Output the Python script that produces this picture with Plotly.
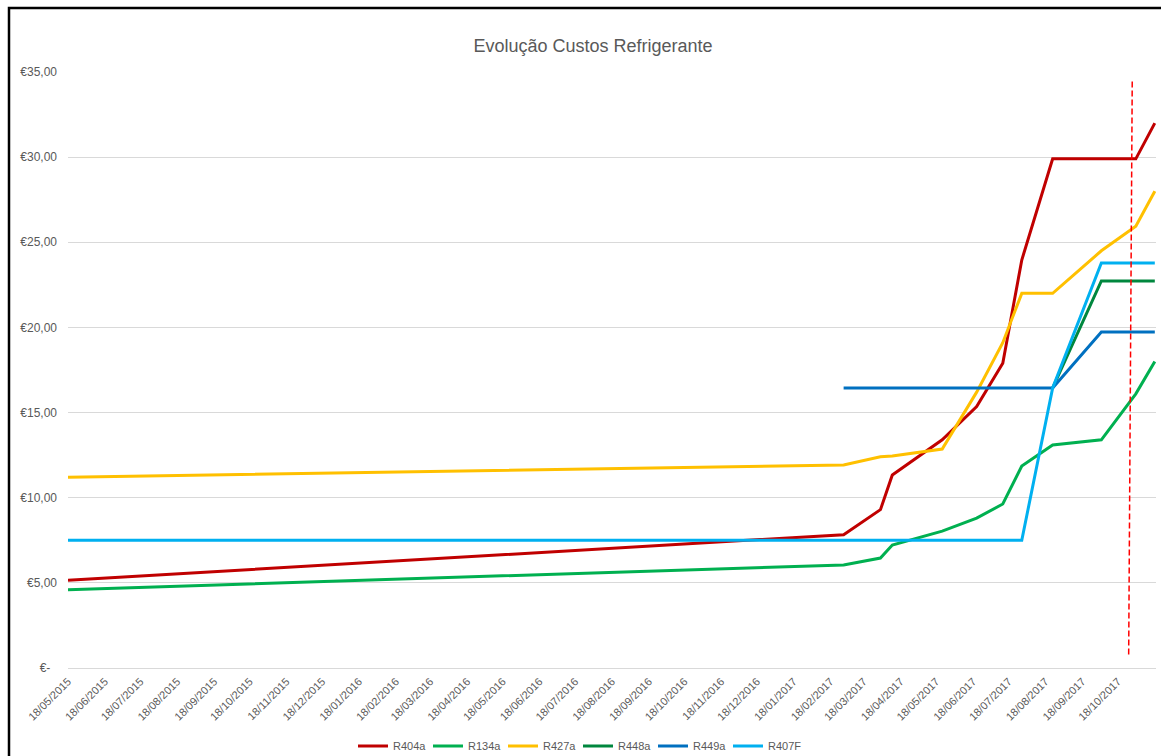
import plotly.graph_objects as go

# ---------------- data ----------------
dates = ["2015-05-18", "2017-03-01", "2017-04-01", "2017-04-11", "2017-05-23",
         "2017-06-21", "2017-07-13", "2017-07-29", "2017-08-24", "2017-10-04",
         "2017-11-02", "2017-11-18"]

r404a = [5.15, 7.83, 9.30, 11.33, 13.40, 15.35, 17.90, 23.96, 29.90, 29.90, 29.90, 32.00]
r134a = [4.60, 6.05, 6.46, 7.22, 8.04, 8.80, 9.63, 11.86, 13.10, 13.40, 16.10, 18.00]
r427a = [11.20, 11.92, 12.40, 12.45, 12.86, 16.20, 19.10, 22.00, 22.00, 24.50, 25.95, 28.00]
r448a = [None, None, None, None, None, None, None, None, 16.45, 22.73, 22.73, 22.73]
r449a = [None, 16.45, 16.45, 16.45, 16.45, 16.45, 16.45, 16.45, 16.45, 19.73, 19.73, 19.73]
r407f = [7.50, 7.50, 7.50, 7.50, 7.50, 7.50, 7.50, 7.50, 16.45, 23.78, 23.78, 23.78]

series_names = ["R404a", "R134a", "R427a", "R448a", "R449a", "R407F"]
series_values = [r404a, r134a, r427a, r448a, r449a, r407f]
series_colors = ["#C00000", "#00B050", "#FFC000", "#00873E", "#0070C0", "#00B0F0"]

# reference (today) marker line
marker_dates = ["2017-10-27", "2017-10-30"]
marker_levels = [0.8, 34.5]

tick_dates = ["2015-05-18", "2015-06-18", "2015-07-18", "2015-08-18", "2015-09-18",
              "2015-10-18", "2015-11-18", "2015-12-18", "2016-01-18", "2016-02-18",
              "2016-03-18", "2016-04-18", "2016-05-18", "2016-06-18", "2016-07-18",
              "2016-08-18", "2016-09-18", "2016-10-18", "2016-11-18", "2016-12-18",
              "2017-01-18", "2017-02-18", "2017-03-18", "2017-04-18", "2017-05-18",
              "2017-06-18", "2017-07-18", "2017-08-18", "2017-09-18", "2017-10-18"]
tick_labels = ["18/05/2015", "18/06/2015", "18/07/2015", "18/08/2015", "18/09/2015",
               "18/10/2015", "18/11/2015", "18/12/2015", "18/01/2016", "18/02/2016",
               "18/03/2016", "18/04/2016", "18/05/2016", "18/06/2016", "18/07/2016",
               "18/08/2016", "18/09/2016", "18/10/2016", "18/11/2016", "18/12/2016",
               "18/01/2017", "18/02/2017", "18/03/2017", "18/04/2017", "18/05/2017",
               "18/06/2017", "18/07/2017", "18/08/2017", "18/09/2017", "18/10/2017"]

y_tick_vals = [0, 5, 10, 15, 20, 25, 30, 35]
y_tick_text = ["€-\u00a0\u00a0", "€5,00", "€10,00", "€15,00", "€20,00", "€25,00", "€30,00", "€35,00"]

title_text = "Evolução Custos Refrigerante"

# ---------------- figure ----------------
FONT = "Liberation Sans, Arial, sans-serif"
GREY = "#595959"

fig = go.Figure()
for name, vals, col in zip(series_names, series_values, series_colors):
    fig.add_trace(go.Scatter(
        x=dates, y=vals, name=name, mode="lines",
        line=dict(color=col, width=3),
        connectgaps=False,
    ))

fig.add_trace(go.Scatter(
    x=marker_dates, y=marker_levels, mode="lines", showlegend=False,
    line=dict(color="#FF0000", width=1.5, dash="6px,3px"), hoverinfo="skip",
))

fig.update_layout(
    width=1161, height=756,
    margin=dict(l=68, r=5, t=72, b=88, autoexpand=False),
    paper_bgcolor="white", plot_bgcolor="white",
    font=dict(family=FONT, color=GREY, size=12),
    title=dict(text=title_text, x=593 / 1161, xref="container", xanchor="center",
               y=1 - 46 / 756, yref="container", yanchor="middle",
               font=dict(size=18, color=GREY, family=FONT)),
    showlegend=True,
    legend=dict(orientation="h", x=(353 - 68) / 1088, xanchor="left",
                y=(668 - 746) / 596, yanchor="middle",
                font=dict(size=11, color=GREY, family=FONT),
                entrywidth=30, entrywidthmode="pixels",
                bgcolor="rgba(0,0,0,0)"),
    xaxis=dict(type="date", range=["2015-05-18", "2017-11-19"], automargin=False,
               tickmode="array", tickvals=tick_dates, ticktext=tick_labels,
               tickangle=-45, showgrid=False, zeroline=False, showline=False,
               ticks="", ticklabelstandoff=4,
               tickfont=dict(size=11, color=GREY, family=FONT)),
    yaxis=dict(range=[0, 35], tickmode="array", tickvals=y_tick_vals, ticktext=y_tick_text,
               automargin=False,
               showgrid=True, gridcolor="#D9D9D9", gridwidth=1,
               zeroline=True, zerolinecolor="#D9D9D9", zerolinewidth=1,
               showline=False, ticks="", ticklabelstandoff=10,
               tickfont=dict(size=12, color=GREY, family=FONT)),
    shapes=[dict(type="rect", xref="paper", yref="paper",
                 x0=(9 - 68) / 1088, x1=1.2, y0=-0.3, y1=(668 - 8) / 596,
                 line=dict(color="black", width=2.5), fillcolor="rgba(0,0,0,0)",
                 layer="above")],
)

fig.write_html("out.html")
